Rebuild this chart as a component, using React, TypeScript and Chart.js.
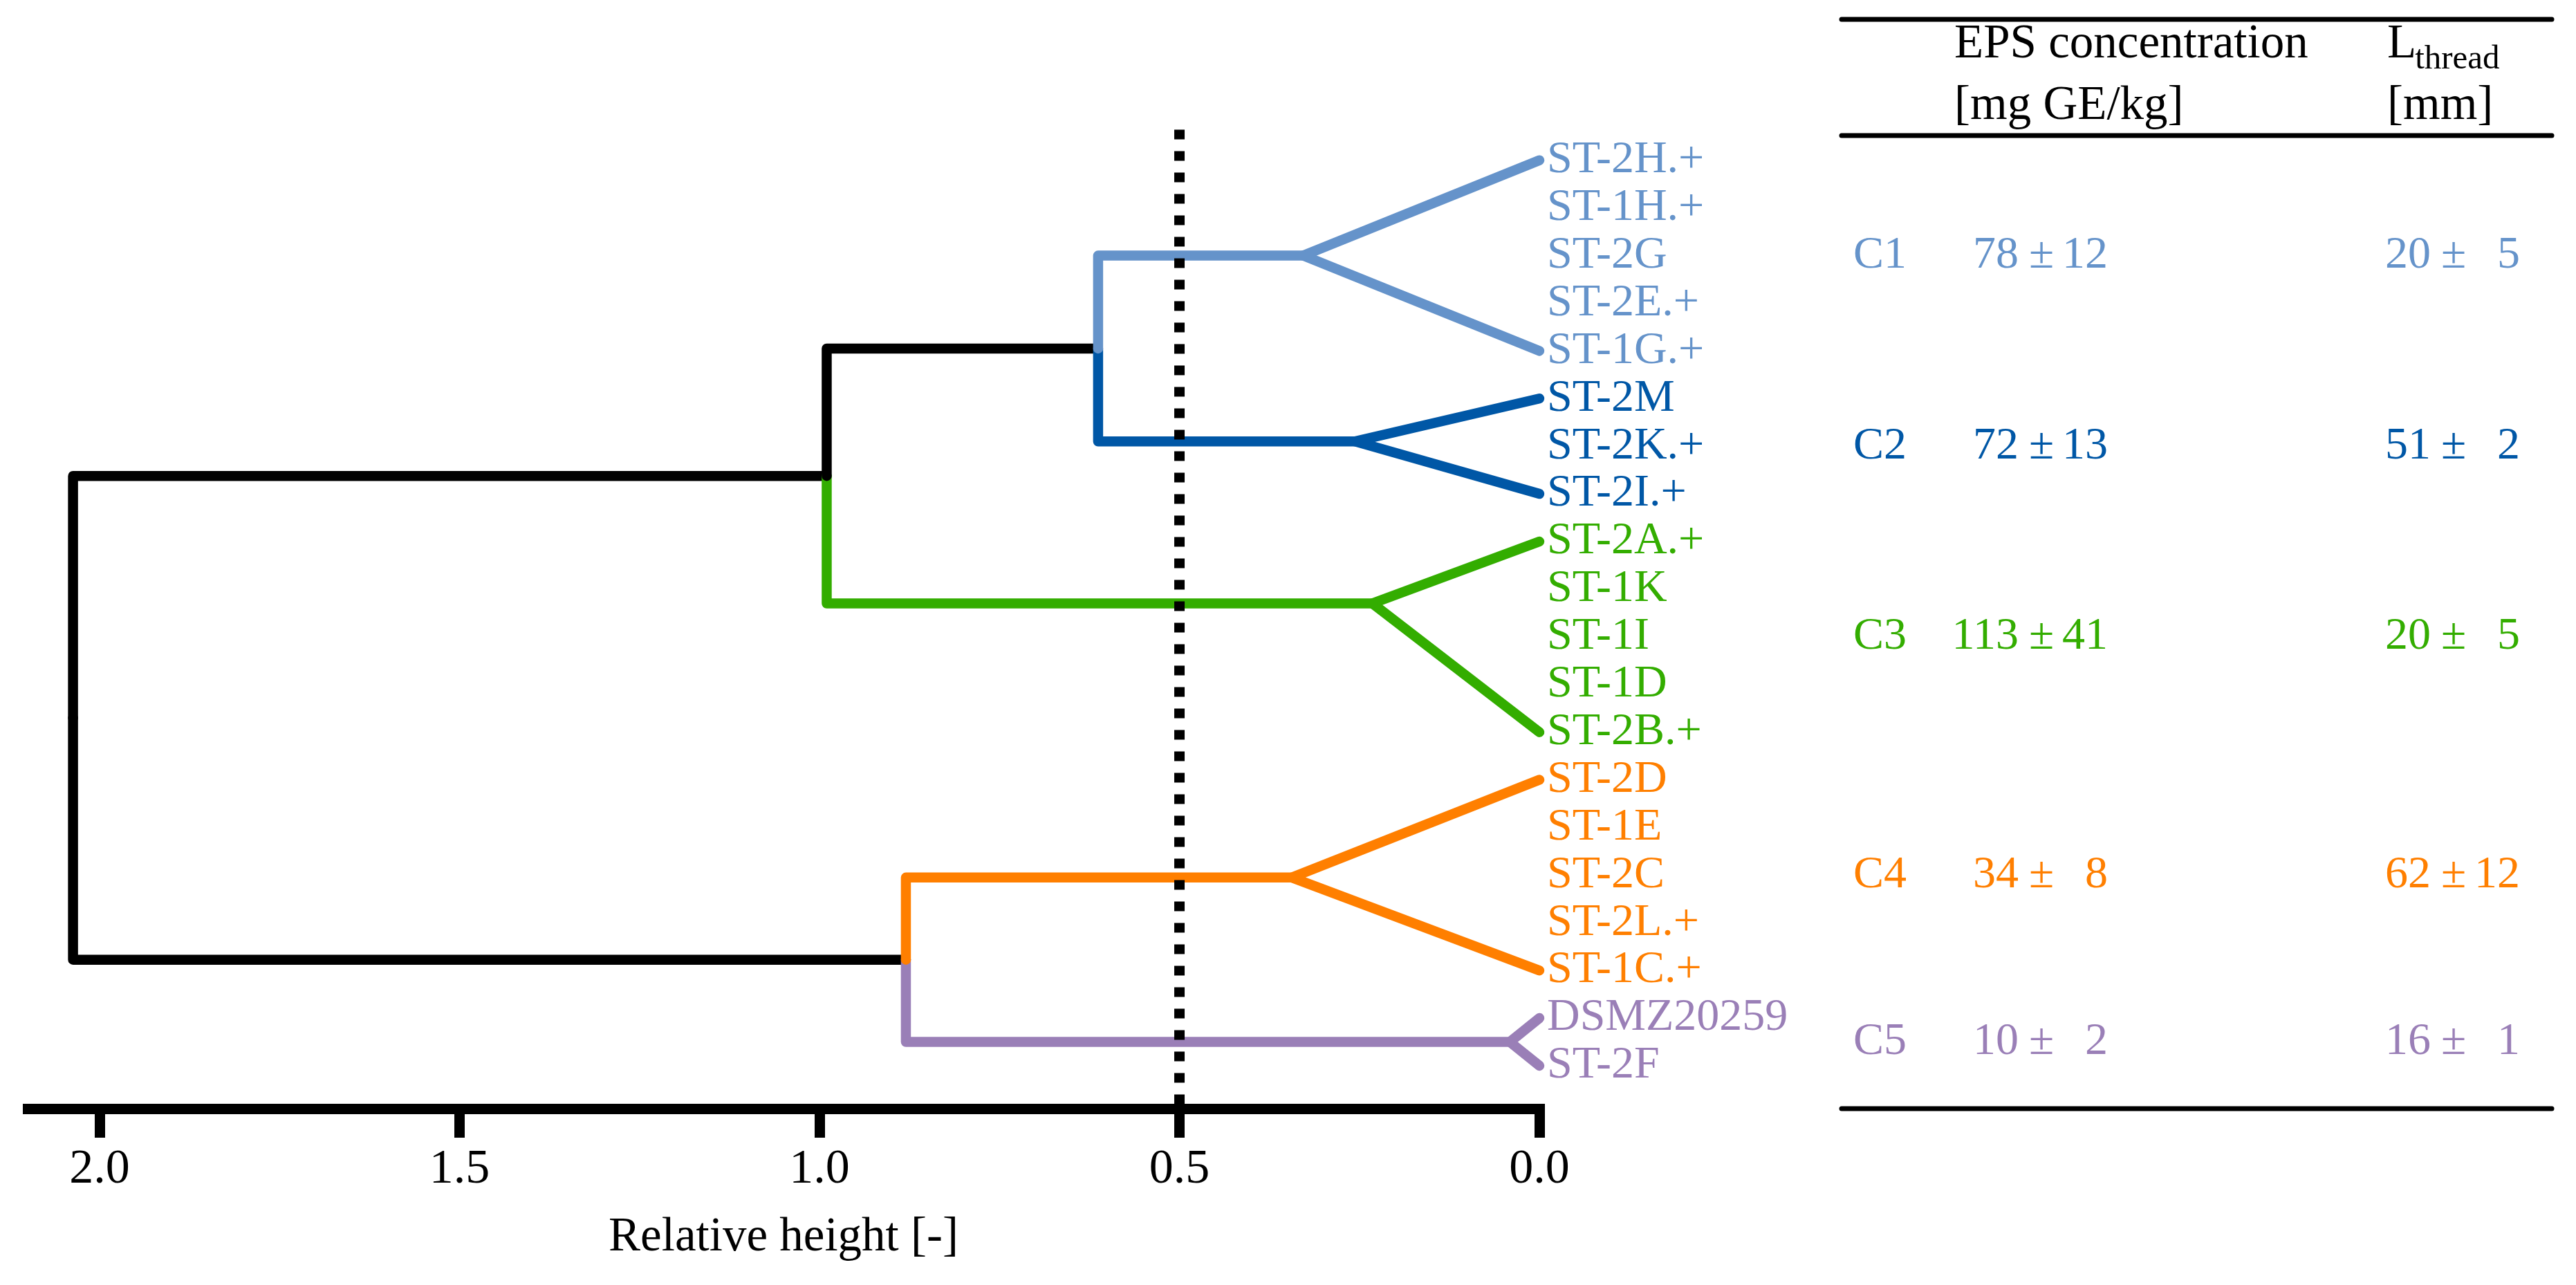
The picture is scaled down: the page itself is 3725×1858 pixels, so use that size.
import React, { useEffect, useRef } from 'react';
import { Chart, registerables } from 'chart.js';

Chart.register(...registerables);

// ---------------- data ----------------
const leafLabels = [
  'ST-2H.+', 'ST-1H.+', 'ST-2G', 'ST-2E.+', 'ST-1G.+',
  'ST-2M', 'ST-2K.+', 'ST-2I.+',
  'ST-2A.+', 'ST-1K', 'ST-1I', 'ST-1D', 'ST-2B.+',
  'ST-2D', 'ST-1E', 'ST-2C', 'ST-2L.+', 'ST-1C.+',
  'DSMZ20259', 'ST-2F',
];
const leafCluster = [0, 0, 0, 0, 0, 1, 1, 1, 2, 2, 2, 2, 2, 3, 3, 3, 3, 3, 4, 4];

const clusterNames = ['C1', 'C2', 'C3', 'C4', 'C5'];
// relative height at which the leaves of each cluster join (apex of the wedge)
const clusterMergeHeight = [0.328, 0.256, 0.232, 0.344, 0.041];
// vertical position (in leaf units) of each cluster's wedge apex
const clusterApexPos = [2.0, 5.9, 9.3, 15.05, 18.5];

// internal merge nodes
const nodeNames = ['N1', 'N2', 'N3', 'N4'];
const nodeHeight = [0.613, 0.99, 0.88, 2.037];
const nodeUpperChild = ['C1', 'N1', 'C4', 'N2'];
const nodeLowerChild = ['C2', 'C3', 'C5', 'N3'];

const cutHeight = 0.5;
const cutTopPos = -0.64;

const xTickValues = [0.0, 0.5, 1.0, 1.5, 2.0];

const epsMean = [78, 72, 113, 34, 10];
const epsSd = [12, 13, 41, 8, 2];
const lthreadMean = [20, 51, 20, 62, 16];
const lthreadSd = [5, 2, 5, 12, 1];

// ---------------- style ----------------
const PALETTE = ['#6593CA', '#0057A6', '#33AD00', '#FF7F00', '#9A7FB7'];
const BLACK = '#000000';
const FONT = '"Liberation Serif", "Times New Roman", serif';
const LINE_W = 14.5;

// ---------------- helpers ----------------
function isCluster(id: string) {
  return clusterNames.indexOf(id) >= 0;
}
function posOf(id: string): number {
  if (isCluster(id)) return clusterApexPos[clusterNames.indexOf(id)];
  const k = nodeNames.indexOf(id);
  return (posOf(nodeUpperChild[k]) + posOf(nodeLowerChild[k])) / 2;
}
function heightOf(id: string): number {
  if (isCluster(id)) return clusterMergeHeight[clusterNames.indexOf(id)];
  return nodeHeight[nodeNames.indexOf(id)];
}
function colorOf(id: string): string {
  if (isCluster(id)) return PALETTE[clusterNames.indexOf(id)];
  return BLACK;
}
function leafRange(c: number): [number, number] {
  const idx = leafCluster.map((v, i) => (v === c ? i : -1)).filter((i) => i >= 0);
  return [idx[0], idx[idx.length - 1]];
}

function buildDatasets() {
  const ds: any[] = [];
  // cut-off line (drawn on top: first dataset)
  ds.push({
    data: [
      { x: cutHeight, y: cutTopPos },
      { x: cutHeight, y: 19.9 },
    ],
    borderColor: BLACK,
    borderWidth: 15,
    borderDash: [14, 17],
    borderCapStyle: 'butt',
  });
  // links of internal nodes
  nodeNames.forEach((n, k) => {
    const h = nodeHeight[k];
    const p = posOf(n);
    [nodeUpperChild[k], nodeLowerChild[k]].forEach((child) => {
      ds.push({
        data: [
          { x: h, y: p },
          { x: h, y: posOf(child) },
          { x: heightOf(child), y: posOf(child) },
        ],
        borderColor: colorOf(child),
        borderWidth: LINE_W,
        borderCapStyle: 'round',
        borderJoinStyle: 'round',
      });
    });
  });
  // cluster wedges
  clusterNames.forEach((c, i) => {
    const [first, last] = leafRange(i);
    ds.push({
      data: [
        { x: 0, y: first },
        { x: clusterMergeHeight[i], y: clusterApexPos[i] },
        { x: 0, y: last },
      ],
      borderColor: PALETTE[i],
      borderWidth: LINE_W,
      borderCapStyle: 'round',
      borderJoinStyle: 'miter',
    });
  });
  return ds.map((d) => ({
    ...d,
    showLine: true,
    pointRadius: 0,
    pointHoverRadius: 0,
    fill: false,
    tension: 0,
    clip: false,
  }));
}

const tablePlugin = {
  id: 'clusterTable',
  afterDraw(chart: any) {
    const { ctx } = chart;
    const yScale = chart.scales.y;
    ctx.save();
    // rules
    ctx.strokeStyle = BLACK;
    ctx.lineWidth = 7;
    ctx.lineCap = 'round';
    [28, 196, 1603].forEach((yy) => {
      ctx.beginPath();
      ctx.moveTo(2663, yy);
      ctx.lineTo(3690, yy);
      ctx.stroke();
    });
    // header
    ctx.fillStyle = BLACK;
    ctx.textBaseline = 'alphabetic';
    ctx.textAlign = 'left';
    ctx.font = `69px ${FONT}`;
    ctx.fillText('EPS concentration', 2826, 83);
    ctx.fillText('[mg GE/kg]', 2826, 172);
    ctx.fillText('L', 3452, 83);
    const lw = ctx.measureText('L').width;
    ctx.fillText('[mm]', 3452, 172);
    ctx.font = `49px ${FONT}`;
    ctx.fillText('thread', 3452 + lw - 2, 99);
    // rows
    ctx.font = `66px ${FONT}`;
    ctx.textBaseline = 'middle';
    clusterNames.forEach((name, c) => {
      const [first, last] = leafRange(c);
      const py = yScale.getPixelForValue((first + last) / 2);
      ctx.fillStyle = PALETTE[c];
      ctx.textAlign = 'left';
      ctx.fillText(name, 2680, py);
      ctx.textAlign = 'right';
      ctx.fillText(String(epsMean[c]), 2919, py);
      ctx.fillText(String(epsSd[c]), 3048, py);
      ctx.fillText(String(lthreadMean[c]), 3515, py);
      ctx.fillText(String(lthreadSd[c]), 3644, py);
      ctx.textAlign = 'center';
      ctx.fillText('±', 2952, py);
      ctx.fillText('±', 3548, py);
    });
    ctx.restore();
  },
};

export default function App() {
  const canvasRef = useRef<HTMLCanvasElement | null>(null);

  useEffect(() => {
    if (!canvasRef.current) return;
    const chart = new Chart(canvasRef.current, {
      type: 'scatter',
      data: { datasets: buildDatasets() },
      options: {
        animation: false,
        responsive: false,
        devicePixelRatio: 1,
        layout: { padding: { left: 40, top: 25, right: 0, bottom: 0 } },
        plugins: {
          legend: { display: false },
          tooltip: { enabled: false },
        },
        scales: {
          x: {
            type: 'linear',
            reverse: true,
            min: 0,
            max: 2.1,
            afterBuildTicks: (scale: any) => {
              scale.ticks = xTickValues.map((v) => ({ value: v }));
            },
            afterFit: (scale: any) => {
              scale.height = 255;
            },
            grid: {
              display: true,
              drawOnChartArea: false,
              drawTicks: true,
              tickLength: 42,
              tickWidth: 15,
              tickColor: BLACK,
              lineWidth: 15,
              color: BLACK,
            },
            border: { display: true, color: BLACK, width: 15 },
            ticks: {
              autoSkip: false,
              maxRotation: 0,
              padding: 5,
              color: BLACK,
              font: { family: FONT, size: 70 },
              callback: (v: any) => Number(v).toFixed(1),
            },
            title: {
              display: true,
              text: 'Relative height [-]',
              color: BLACK,
              font: { family: FONT, size: 69 },
              padding: { top: 0, bottom: 27 },
            },
          },
          y: {
            type: 'linear',
            position: 'right',
            reverse: true,
            min: -3,
            max: 19.9,
            afterBuildTicks: (scale: any) => {
              scale.ticks = leafLabels.map((_, i) => ({ value: i }));
            },
            afterFit: (scale: any) => {
              scale.width = 1499;
              scale.paddingTop = 0;
              scale.paddingBottom = 0;
            },
            grid: { display: false, drawTicks: false },
            border: { display: false },
            ticks: {
              autoSkip: false,
              padding: 11,
              font: { family: FONT, size: 66, lineHeight: 1.0 },
              color: (ctx: any) => PALETTE[leafCluster[ctx.index]] || BLACK,
              callback: (v: any) => leafLabels[Math.round(Number(v))],
            },
          },
        },
      },
      plugins: [tablePlugin],
    });
    return () => chart.destroy();
  }, []);

  return (
    <div
      style={{
        position: 'fixed',
        left: 0,
        top: 0,
        width: 3725,
        height: 1858,
        background: '#ffffff',
      }}
    >
      <canvas
        ref={canvasRef}
        width={3725}
        height={1858}
        style={{ width: 3725, height: 1858, display: 'block' }}
      />
    </div>
  );
}
